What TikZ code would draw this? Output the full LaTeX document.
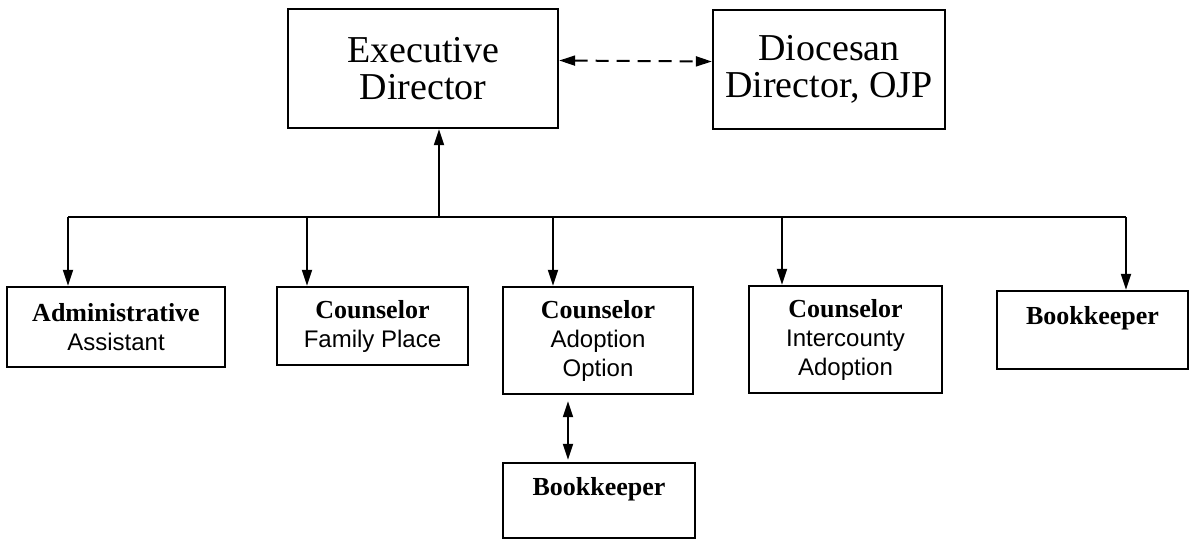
\documentclass[tikz,border=0pt]{standalone}
\usepackage{fontspec}
\setmainfont{Liberation Serif}
\newfontfamily\subfont{Liberation Sans}
\usetikzlibrary{arrows.meta}

\tikzset{
  box/.style={draw, line width=1.2pt, align=center, inner sep=0pt},
  bigbox/.style={box, font=\fontsize{19}{18.8}\selectfont},
  smallbox/.style={box, font=\fontsize{13}{14.5}\selectfont},
  arr/.style={line width=1pt, -{Triangle[length=8pt,width=5pt]}},
  arrboth/.style={line width=1pt, {Triangle[length=8pt,width=5pt]}-{Triangle[length=8pt,width=5pt]}},
}

\begin{document}
\begin{tikzpicture}[x=0.5pt,y=-0.5pt]
\useasboundingbox (0,0) rectangle (1192,541);
% top row
\node[bigbox, minimum width=135pt, minimum height=59.5pt] (ed) at (423,68.5) {Executive\\Director};
\node[bigbox, minimum width=116pt, minimum height=59.5pt] (dd) at (829,69.5) {Diocesan\\Director, OJP};
\draw[arrboth, dash pattern=on 6.5pt off 4pt] ([yshift=4pt]ed.east) -- ([yshift=4pt]dd.west);
% staff row
\node[smallbox, minimum width=109pt, minimum height=40pt] (aa) at (116,327) {{\bfseries Administrative}\\{\subfont\fontsize{12}{14.5}\selectfont Assistant}};
\node[smallbox, minimum width=95.5pt, minimum height=39pt] (cf) at (372.5,326) {{\bfseries Counselor}\\{\subfont\fontsize{12}{14.5}\selectfont Family Place}};
\node[smallbox, minimum width=95pt, minimum height=53.5pt] (ca) at (598,340.5) {{\bfseries Counselor}\\{\subfont\fontsize{12}{14.5}\selectfont Adoption}\\{\subfont\fontsize{12}{14.5}\selectfont Option}};
\node[smallbox, minimum width=96.5pt, minimum height=53.5pt] (ci) at (845.5,339.5) {{\bfseries Counselor}\\{\subfont\fontsize{12}{14.5}\selectfont Intercounty}\\{\subfont\fontsize{12}{14.5}\selectfont Adoption}};
\node[smallbox, minimum width=95.5pt, minimum height=39pt] (bk) at (1092.5,330) {{\bfseries Bookkeeper}\\\mbox{}};
\node[smallbox, minimum width=96pt, minimum height=37.5pt] (bk2) at (599,500.5) {{\bfseries Bookkeeper}\\\mbox{}};
% connectors
\coordinate (hub) at (439,217);
\coordinate (lend) at (68,217);
\coordinate (rend) at (1126,217);
\draw[arr] (hub) -- (hub |- ed.south);
\draw[line width=1pt] (lend) -- (rend);
\foreach \x/\n in {68/aa,307/cf,553/ca,782/ci,1126/bk}
{
	\draw[arr] (\x,217) -- (\n.north -| \x,0);
}
\draw[arrboth, shorten <=3pt, shorten >=1pt] (ca.south -| 568,0) -- (bk2.north -| 568,0);
\end{tikzpicture}
\end{document}
